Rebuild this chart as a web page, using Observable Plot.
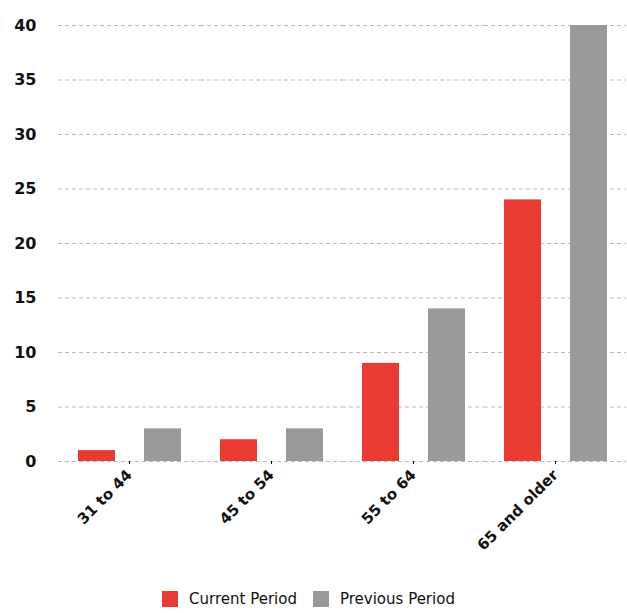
<!DOCTYPE html>
<html>
<head>
<meta charset="utf-8">
<script src="https://cdn.jsdelivr.net/npm/d3@7"></script>
<script src="https://cdn.jsdelivr.net/npm/@observablehq/plot@0.6"></script>
<style>
  body { margin: 0; background: #fff; font-family: "DejaVu Sans", sans-serif; }
  #legend { display: flex; justify-content: center; gap: 16px; font-size: 15px; color: #111; margin-top: 14px; margin-left: -10px; }
  .sw { display: inline-flex; align-items: center; gap: 11px; }
  .sq { width: 16px; height: 16px; display: inline-block; }
</style>
</head>
<body>
<div id="chart"></div>
<div id="legend"></div>
<script>
const categories = ["31 to 44", "45 to 54", "55 to 64", "65 and older"];
const series = ["Current Period", "Previous Period"];
const currentValues = [1, 2, 9, 24];
const previousValues = [3, 3, 14, 40];
const yTicks = [0, 5, 10, 15, 20, 25, 30, 35, 40];
const colors = ["#ea3b33", "#9a9a9a"];

const data = [];
categories.forEach((c, i) => {
  data.push({category: c, series: series[0], value: currentValues[i]});
  data.push({category: c, series: series[1], value: previousValues[i]});
});

const plot = Plot.plot({
  width: 627,
  height: 576,
  marginLeft: 57,
  marginRight: 0,
  marginTop: 25,
  marginBottom: 115,
  style: {fontFamily: "DejaVu Sans, sans-serif"},
  fx: {domain: categories, padding: 0, label: null},
  x: {domain: series, paddingInner: 0.44, paddingOuter: 0.29, axis: null},
  y: {domain: [0, 40], ticks: yTicks, label: null},
  color: {domain: series, range: colors},
  marks: [
    Plot.gridY(yTicks, {stroke: "#bbb", strokeOpacity: 1, strokeDasharray: "4,3"}),
    Plot.barY(data, {fx: "category", x: "series", y: "value", fill: "series"}),
    Plot.axisY(yTicks, {tickSize: 0, tickPadding: 22, fontSize: 16, fontWeight: "bold", fill: "#111", tickFormat: d => d}),
    Plot.axisFx({anchor: "bottom", tickSize: 3, tickRotate: -45, fontSize: 15, fontWeight: "bold", fill: "#111", tickPadding: 8, label: null})
  ]
});
document.getElementById("chart").appendChild(plot);

const legend = document.getElementById("legend");
series.forEach((s, i) => {
  const el = document.createElement("span");
  el.className = "sw";
  el.innerHTML = `<span class="sq" style="background:${colors[i]}"></span><span>${s}</span>`;
  legend.appendChild(el);
});
</script>
</body>
</html>
